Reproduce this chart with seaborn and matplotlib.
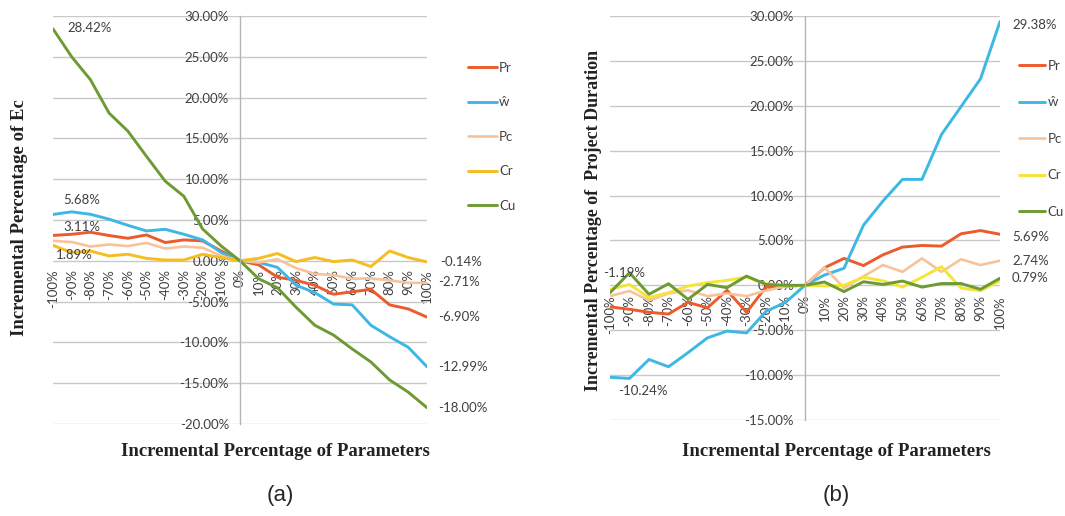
# -*- coding: utf-8 -*-
"""
Sensitivity of Ec and Project Duration to parameter changes
"""

# Imports
import matplotlib
matplotlib.use('Agg')
import matplotlib.pyplot as plt
import pandas as pd
import seaborn as sns

# Data (values in %)
pct = [-100, -90, -80, -70, -60, -50, -40, -30, -20, -10, 0,
       10, 20, 30, 40, 50, 60, 70, 80, 90, 100]
pct_labels = ['-100%', '-90%', '-80%', '-70%', '-60%', '-50%', '-40%', '-30%',
              '-20%', '-10%', '0%', '10%', '20%', '30%', '40%', '50%', '60%',
              '70%', '80%', '90%', '100%']
series_names = ['Pr', 'ŵ', 'Pc', 'Cr', 'Cu']

# (a) Incremental percentage of Ec
a_pr = [3.11, 3.25, 3.50, 3.10, 2.76, 3.17, 2.24, 2.56, 2.44, 1.20, 0.00,
        -0.50, -2.00, -2.40, -3.00, -4.10, -3.80, -3.50, -5.40, -5.90, -6.90]
a_w = [5.68, 6.00, 5.70, 5.10, 4.35, 3.66, 3.86, 3.25, 2.56, 1.00, 0.00,
       -0.20, -0.80, -3.00, -3.90, -5.30, -5.40, -7.90, -9.30, -10.60, -12.99]
a_pc = [2.44, 2.30, 1.75, 2.00, 1.80, 2.20, 1.50, 1.75, 1.60, 0.60, 0.00,
        -0.20, 0.20, -0.90, -1.60, -1.75, -2.20, -2.15, -2.40, -2.70, -2.71]
a_cr = [1.89, 1.00, 1.20, 0.60, 0.80, 0.30, 0.10, 0.10, 0.80, 0.40, 0.00,
        0.30, 0.90, -0.10, 0.40, -0.10, 0.10, -0.70, 1.20, 0.40, -0.14]
a_cu = [28.42, 25.00, 22.20, 18.10, 15.90, 12.80, 9.76, 7.90, 3.90, 1.80, 0.00,
        -2.20, -3.30, -5.70, -7.90, -9.10, -10.80, -12.40, -14.60, -16.10, -18.00]

# (b) Incremental percentage of project duration
b_pr = [-2.40, -2.67, -3.00, -3.20, -1.90, -2.50, -0.55, -3.00, -0.20, -0.10, 0.00,
        1.96, 3.00, 2.20, 3.40, 4.26, 4.44, 4.37, 5.74, 6.10, 5.69]
b_w = [-10.24, -10.37, -8.26, -9.07, -7.50, -5.85, -5.10, -5.30, -2.90, -1.90, 0.00,
       1.15, 1.90, 6.70, 9.40, 11.80, 11.80, 16.80, 19.90, 23.00, 29.38]
b_pc = [-1.20, -0.63, -1.67, -0.90, -0.55, -1.20, -0.90, -1.20, -0.60, -0.10, 0.00,
        2.00, -0.30, 1.00, 2.26, 1.50, 3.00, 1.50, 2.90, 2.26, 2.74]
b_cr = [-0.45, 0.10, -1.37, -0.82, -0.08, 0.30, 0.55, 0.92, 0.18, -0.05, 0.00,
        -0.07, 0.00, 0.90, 0.50, -0.20, 0.90, 2.07, -0.30, -0.60, 0.50]
b_cu = [-0.82, 1.40, -1.00, 0.18, -1.56, 0.10, -0.26, 1.03, 0.10, 0.00, 0.00,
        0.37, -0.70, 0.40, 0.10, 0.48, -0.20, 0.20, 0.20, -0.44, 0.79]

a_yticks = [-20, -15, -10, -5, 0, 5, 10, 15, 20, 25, 30]
b_yticks = [-15, -10, -5, 0, 5, 10, 15, 20, 25, 30]

colors_a = ['#EC5B2C', '#3DB7E4', '#F7C39B', '#F5BD1F', '#6E9A34']
colors_b = ['#EC5B2C', '#3DB7E4', '#F7C39B', '#F3E536', '#6E9A34']

TXT = '#404040'
GRID = '#C9C9C9'
SANS = ['Lato', 'DejaVu Sans']
SERIF = ['Liberation Serif', 'DejaVu Serif']


def make_frame(values):
    rows = []
    for name, vals in zip(series_names, values):
        for x, v in zip(pct, vals):
            rows.append({'pct': x, 'value': v, 'series': name})
    return pd.DataFrame(rows)


def draw_panel(ax, df, colors, yticks, pad):
    for name, col in zip(series_names, colors):
        sub = df[df['series'] == name]
        lw = 2.1 if name != 'Pc' else 1.9
        sns.lineplot(data=sub, x='pct', y='value', ax=ax, color=col,
                     linewidth=lw, label=name, legend=False)

    ax.set_xlim(pct[0], pct[-1])
    ax.set_ylim(yticks[0], yticks[-1])

    # horizontal grid, vertical axis through 0%
    ax.set_yticks(yticks)
    ax.set_yticklabels(['%.2f%%' % t for t in yticks])
    ax.grid(axis='y', color=GRID, linewidth=1.0)
    ax.set_axisbelow(True)
    for s in ['top', 'right']:
        ax.spines[s].set_visible(False)
    ax.spines['left'].set_position(('data', 0))
    ax.spines['left'].set_color('#B5B5B5')
    ax.spines['left'].set_linewidth(1.0)
    ax.spines['bottom'].set_position(('data', 0))
    ax.spines['bottom'].set_visible(False)

    ax.set_xticks(pct)
    ax.set_xticklabels(pct_labels, rotation=90)
    ax.tick_params(axis='x', length=0, pad=pad, labelsize=9.5, labelcolor=TXT)
    ax.tick_params(axis='y', length=0, pad=8, labelsize=9.5, labelcolor=TXT)
    for lab in ax.get_xticklabels() + ax.get_yticklabels():
        lab.set_family(SANS)


def add_label(ax, x, y, text, dx, dy, ha='left'):
    # dx, dy in pixels
    ax.annotate(text, xy=(x, y), xytext=(dx * 0.72, dy * 0.72),
                textcoords='offset points', ha=ha, va='center',
                fontsize=9.5, color=TXT, family=SANS)


def main():

    # Set Seaborn theme
    sns.set_style('white')
    plt.rcParams['font.family'] = SANS

    fig = plt.figure(figsize=(10.65, 5.16), dpi=100)
    W, H = 1065.0, 516.0

    ax_a = fig.add_axes([53 / W, 1 - 424 / H, 374 / W, 408 / H])
    ax_b = fig.add_axes([610 / W, 1 - 420 / H, 390 / W, 404 / H])

    df_a = make_frame([a_pr, a_w, a_pc, a_cr, a_cu])
    df_b = make_frame([b_pr, b_w, b_pc, b_cr, b_cu])

    draw_panel(ax_a, df_a, colors_a, a_yticks, pad=6)
    draw_panel(ax_b, df_b, colors_b, b_yticks, pad=7)

    # Axis titles
    title_kw = dict(family=SERIF, fontweight='bold', fontsize=13.5, color='#222222')
    ax_a.set_xlabel('Incremental Percentage of Parameters', **title_kw)
    ax_a.xaxis.set_label_coords((275 - 53) / 374, (424 - 443) / 408)
    ax_a.set_ylabel('Incremental Percentage of Ec', **title_kw)
    ax_a.yaxis.set_label_coords((28 - 53) / 374, (424 - 218) / 408)

    ax_b.set_xlabel('Incremental Percentage of Parameters', **title_kw)
    ax_b.xaxis.set_label_coords((836 - 610) / 390, (420 - 443) / 404)
    ax_b.set_ylabel('Incremental Percentage of  Project Duration',
                    **dict(title_kw, fontsize=13))
    ax_b.yaxis.set_label_coords((602 - 610) / 390, (420 - 220) / 404)

    # Data labels (a)
    add_label(ax_a, pct[0], a_cu[0], '28.42%', 14, 1)
    add_label(ax_a, pct[0], a_w[0], '5.68%', 10, 14)
    add_label(ax_a, pct[0], a_pr[0], '3.11%', 10, 8)
    add_label(ax_a, pct[0], a_cr[0], '1.89%', 3, -10)
    add_label(ax_a, pct[-1], a_cr[-1], '-0.14%', 13, 0)
    add_label(ax_a, pct[-1], a_pc[-1], '-2.71%', 11, 1)
    add_label(ax_a, pct[-1], a_pr[-1], '-6.90%', 11, 0)
    add_label(ax_a, pct[-1], a_w[-1], '-12.99%', 11, 0)
    add_label(ax_a, pct[-1], a_cu[-1], '-18.00%', 11, 0)

    # Data labels (b)
    add_label(ax_b, pct[-1], b_w[-1], '29.38%', 12, -3)
    add_label(ax_b, pct[-1], b_pr[-1], '5.69%', 12, -3)
    add_label(ax_b, pct[-1], b_pc[-1], '2.74%', 12, 0)
    add_label(ax_b, pct[-1], b_cu[-1], '0.79%', 12, 0)
    add_label(ax_b, pct[0], b_cu[0], '-1.19%', 14, 20, ha='center')
    add_label(ax_b, pct[0], b_w[0], '-10.24%', 8, -14)

    # Legends
    for ax, x0, y0, sp, hl in [(ax_a, 468, 62, 1.70, 2.2),
                               (ax_b, 1019, 60, 1.85, 2.0)]:
        ax.legend(loc='upper left', bbox_to_anchor=(x0 / W, 1 - y0 / H),
                  bbox_transform=fig.transFigure, frameon=False, fontsize=9.5,
                  labelspacing=sp, handlelength=hl, handletextpad=0.15,
                  borderpad=0, borderaxespad=0, labelcolor=TXT)

    # Panel tags
    fig.text(280 / W, 1 - 496 / H, '(a)', ha='center', va='center',
             fontsize=16, family=['Liberation Sans', 'DejaVu Sans'])
    fig.text(836 / W, 1 - 496 / H, '(b)', ha='center', va='center',
             fontsize=16, family=['Liberation Sans', 'DejaVu Sans'])

    fig.savefig('out.png', dpi=100, facecolor='white')


if __name__ == "__main__":
    main()
